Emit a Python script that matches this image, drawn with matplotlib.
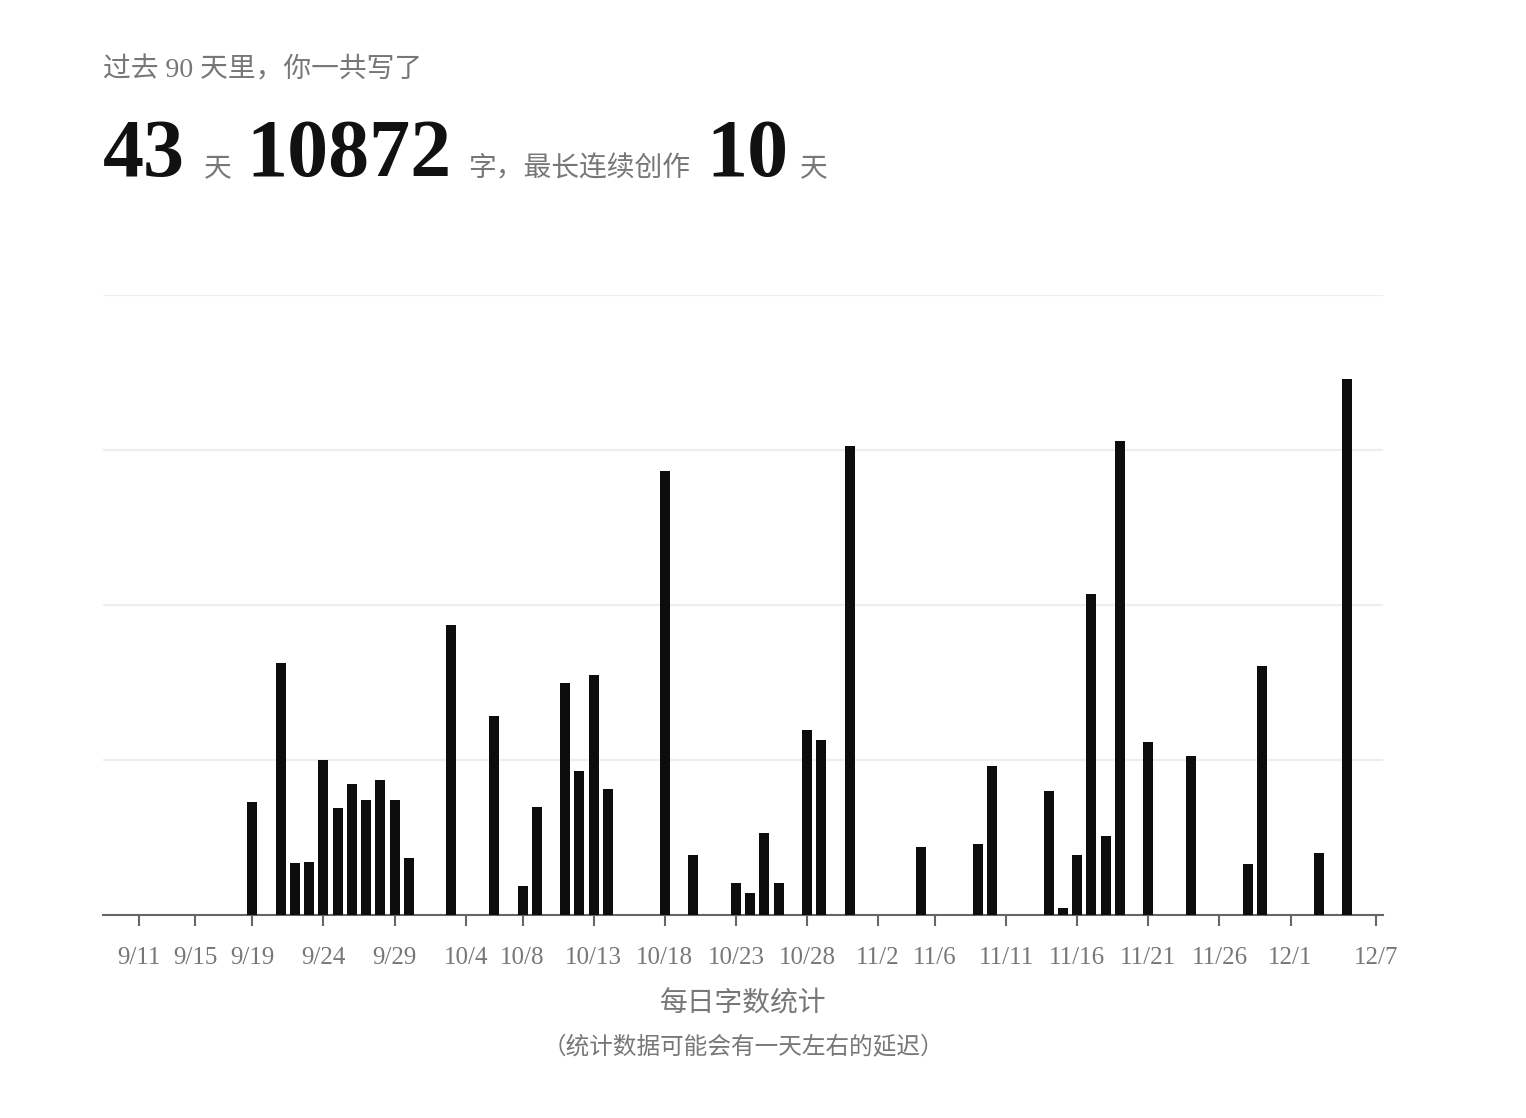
import matplotlib
matplotlib.use("Agg")
import matplotlib.pyplot as plt
import pandas as pd

# days written in the last 90 days and the word count of each one
start_date = "2023-09-09"
n_days = 90
write_dates = ["9/19", "9/21", "9/22", "9/23", "9/24", "9/25", "9/26", "9/27", "9/28", "9/29",
               "9/30", "10/3", "10/6", "10/8", "10/9", "10/11", "10/12", "10/13", "10/14", "10/18",
               "10/20", "10/23", "10/24", "10/25", "10/26", "10/28", "10/29", "10/31", "11/5", "11/9",
               "11/10", "11/14", "11/15", "11/16", "11/17", "11/18", "11/19", "11/21", "11/24", "11/28",
               "11/29", "12/3", "12/5"]
word_counts = [182, 406, 84, 85, 250, 172, 211, 186, 217, 186,
               92, 468, 321, 47, 175, 374, 233, 387, 203, 716,
               97, 51, 36, 133, 52, 298, 283, 757, 110, 115,
               240, 200, 12, 96, 518, 127, 765, 279, 257, 82,
               401, 100, 865]
tick_dates = ["9/11", "9/15", "9/19", "9/24", "9/29", "10/4", "10/8", "10/13", "10/18", "10/23",
              "10/28", "11/2", "11/6", "11/11", "11/16", "11/21", "11/26", "12/1", "12/7"]
grid_values = [250, 500, 750, 1000]

total_days = 43
total_words = 10872
longest_streak = 10

days = pd.date_range(start_date, periods=n_days)
labels = [f"{d.month}/{d.day}" for d in days]
pos = {lab: i for i, lab in enumerate(labels)}

mixed = ["Liberation Serif", "Noto Sans CJK SC"]
grey = "#777777"

fig = plt.figure(figsize=(15.26, 11.18), dpi=100)
ax = fig.add_axes([103 / 1526, 1 - 915 / 1118, 1280 / 1526, 620 / 1118])

ax.bar([pos[d] for d in write_dates], word_counts, width=0.7, color="#0d0d0d", zorder=3)

ax.set_xlim(-0.5, n_days - 0.5)
ax.set_ylim(0, 1000)
ax.set_yticks(grid_values)
ax.yaxis.grid(True, color="#eeeeee", linewidth=1.6)
ax.set_axisbelow(True)
ax.tick_params(axis="y", length=0, labelleft=False)

ax.set_xticks([pos[d] for d in tick_dates])
ax.set_xticklabels(tick_dates, family=mixed, fontsize=18, color=grey)
ax.tick_params(axis="x", length=8, width=1.5, color="#666666", pad=15)

for s in ["left", "top", "right"]:
    ax.spines[s].set_visible(False)
ax.spines["bottom"].set_color("#666666")
ax.spines["bottom"].set_linewidth(1.5)

# header
fig.text(103 / 1526, 1 - 70 / 1118, "过去 90 天里，你一共写了", family=mixed,
         fontsize=20, color=grey, va="center", ha="left")

base_y = 1 - 176 / 1118
parts = [
    (103, str(total_days), True),
    (204, "天", False),
    (246, str(total_words), True),
    (468, "字，最长连续创作", False),
    (706, str(longest_streak), True),
    (800, "天", False),
]
for x, txt, big in parts:
    if big:
        fig.text(x / 1526, base_y, txt, family="Liberation Serif", fontweight="bold",
                 fontsize=59, color="#111111", va="baseline", ha="left")
    else:
        fig.text(x / 1526, base_y, txt, family=mixed, fontsize=20, color=grey,
                 va="baseline", ha="left")

# axis captions
fig.text(743 / 1526, 1 - 1004 / 1118, "每日字数统计", family=mixed, fontsize=20,
         color=grey, ha="center", va="center")
fig.text(743 / 1526, 1 - 1048 / 1118, "（统计数据可能会有一天左右的延迟）", family=mixed,
         fontsize=17, color=grey, ha="center", va="center")

fig.savefig("out.png", dpi=100)
